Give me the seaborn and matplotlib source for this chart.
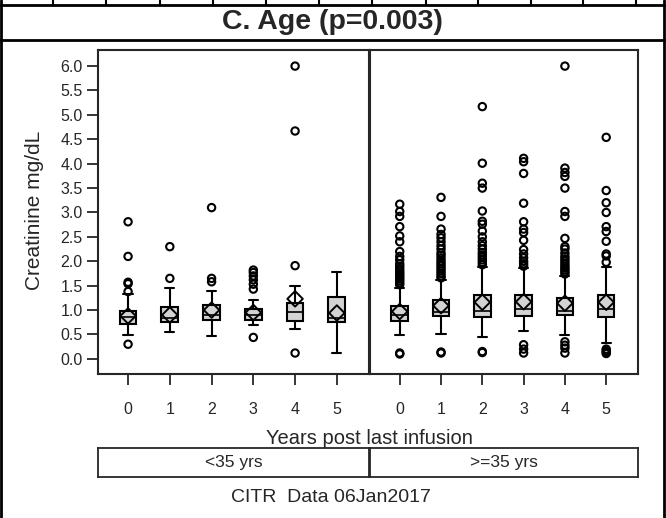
import numpy as np
import pandas as pd
import matplotlib
matplotlib.use("Agg")
import matplotlib.pyplot as plt
import seaborn as sns
from matplotlib.lines import Line2D

# --- Data ---
years = [0, 1, 2, 3, 4, 5]
age_groups = ["<35 yrs", ">=35 yrs"]

# <35 yrs
young_q1 = [0.71, 0.75, 0.80, 0.80, 0.77, 0.75]
young_median = [0.85, 0.83, 0.89, 0.89, 0.96, 0.83]
young_q3 = [0.98, 1.07, 1.11, 1.02, 1.14, 1.26]
young_whislo = [0.48, 0.56, 0.46, 0.70, 0.61, 0.12]
young_whishi = [1.33, 1.45, 1.39, 1.21, 1.50, 1.79]
young_mean = [0.88, 0.90, 1.00, 0.95, 1.23, 0.94]
young_outliers = [
    [0.30, 1.38, 1.54, 1.57, 2.10, 2.81],
    [1.65, 2.30],
    [1.58, 1.65, 3.10],
    [0.44, 1.43, 1.53, 1.62, 1.70, 1.77, 1.82],
    [0.12, 1.91, 4.67, 6.00],
    [],
]

# >=35 yrs
old_q1 = [0.78, 0.87, 0.85, 0.87, 0.89, 0.85]
old_median = [0.89, 0.97, 0.98, 1.02, 0.98, 1.02]
old_q3 = [1.09, 1.21, 1.30, 1.31, 1.24, 1.30]
old_whislo = [0.48, 0.51, 0.44, 0.58, 0.49, 0.32]
old_whishi = [1.45, 1.62, 1.89, 1.86, 1.70, 1.89]
old_mean = [0.97, 1.09, 1.16, 1.17, 1.14, 1.16]
old_outliers = [
    [0.10, 0.12, 1.52, 1.56, 1.60, 1.64, 1.68, 1.72, 1.76, 1.80, 1.85, 1.90,
     1.95, 2.03, 2.10, 2.20, 2.40, 2.52, 2.71, 2.92, 3.02, 3.17],
    [0.12, 0.14, 1.66, 1.70, 1.75, 1.80, 1.85, 1.90, 1.95, 2.00, 2.06, 2.12,
     2.17, 2.25, 2.32, 2.40, 2.48, 2.55, 2.66, 2.92, 3.31],
    [0.13, 0.15, 1.93, 1.98, 2.03, 2.08, 2.13, 2.18, 2.25, 2.32, 2.40, 2.50,
     2.62, 2.76, 2.82, 3.03, 3.50, 3.60, 4.01, 5.17],
    [0.12, 0.20, 0.29, 1.90, 1.95, 2.00, 2.07, 2.15, 2.24, 2.43, 2.59, 2.66,
     2.81, 3.19, 3.80, 4.04, 4.11],
    [0.12, 0.22, 0.28, 0.35, 1.74, 1.78, 1.82, 1.86, 1.90, 1.95, 2.00, 2.05,
     2.10, 2.17, 2.25, 2.30, 2.47, 2.92, 3.02, 3.50, 3.74, 3.82, 3.91, 6.00],
    [0.11, 0.14, 0.17, 0.20, 1.98, 2.11, 2.15, 2.41, 2.61, 2.71, 3.00, 3.20,
     3.45, 4.54],
]

summaries = {
    "<35 yrs": (young_q1, young_median, young_q3, young_whislo, young_whishi, young_mean, young_outliers),
    ">=35 yrs": (old_q1, old_median, old_q3, old_whislo, old_whishi, old_mean, old_outliers),
}

# long tables for seaborn
out_rows, mean_rows = [], []
for grp, (q1, med, q3, lo, hi, mn, outl) in summaries.items():
    for yr, m, pts in zip(years, mn, outl):
        mean_rows.append({"age": grp, "year": yr, "value": m})
        for v in pts:
            out_rows.append({"age": grp, "year": yr, "value": v})
df_out = pd.DataFrame(out_rows)
df_mean = pd.DataFrame(mean_rows)

# --- Styling ---
sns.set_style("ticks")
plt.rcParams["font.family"] = ["Liberation Sans", "DejaVu Sans"]
W, H = 666, 518


def px(x):
    return x / W


def py(y):
    return 1 - y / H


fig = plt.figure(figsize=(W / 100, H / 100), dpi=100)

panel_x = [(98, 369), (370, 638)]
top, bottom = 50, 374

axes = []
for (x0, x1), grp in zip(panel_x, age_groups):
    ax = fig.add_axes([px(x0), py(bottom), px(x1) - px(x0), py(top) - py(bottom)])
    q1, med, q3, lo, hi, mn, outl = summaries[grp]
    stats = [dict(q1=a, med=b, q3=c, whislo=d, whishi=e, fliers=[])
             for a, b, c, d, e in zip(q1, med, q3, lo, hi)]
    ax.bxp(stats, positions=years, widths=0.4, patch_artist=True, showfliers=False,
           capwidths=0.22,
           boxprops=dict(facecolor="#d3d3d3", edgecolor="black", linewidth=1.5),
           medianprops=dict(color="black", linewidth=1.2),
           whiskerprops=dict(color="black", linewidth=1.5),
           capprops=dict(color="black", linewidth=1.5))
    sns.scatterplot(data=df_out[df_out["age"] == grp], x="year", y="value", ax=ax,
                    marker="o", s=28, facecolors="none", edgecolor="black",
                    linewidth=1.5, zorder=4)
    sns.scatterplot(data=df_mean[df_mean["age"] == grp], x="year", y="value", ax=ax,
                    marker="D", s=62, facecolors="none", edgecolor="black",
                    linewidth=1.4, zorder=5)
    ax.set_xlim(-0.72, 5.77)
    ax.set_ylim(-0.31, 6.33)
    ax.set_xticks(years)
    ax.set_xticklabels([str(y) for y in years])
    ax.set_xlabel("")
    ax.set_ylabel("")
    for s in ax.spines.values():
        s.set_visible(True)
        s.set_linewidth(1.5)
    ax.tick_params(axis="x", direction="out", length=8, width=1.3, labelsize=11.5, pad=12)
    axes.append(ax)

axes[0].set_yticks(np.arange(0, 6.01, 0.5))
axes[0].set_yticklabels([f"{v:.1f}" for v in np.arange(0, 6.01, 0.5)])
axes[0].tick_params(axis="y", direction="out", length=8, width=1.3, labelsize=11.5, pad=3)
axes[1].set_yticks([])

# strip boxes under the panels
for (x0, x1), grp in zip(panel_x, age_groups):
    sax = fig.add_axes([px(x0), py(477), px(x1) - px(x0), py(448) - py(477)])
    sax.set_xticks([])
    sax.set_yticks([])
    for s in sax.spines.values():
        s.set_visible(True)
        s.set_linewidth(1.3)
    sax.text(0.5, 0.5, grp, ha="center", va="center", fontsize=12.5, transform=sax.transAxes)

# texts
fig.text(px(332), py(22), "C. Age (p=0.003)", ha="center", va="center",
         fontsize=20.5, fontweight="bold")
fig.text(px(35), py(210), "Creatinine mg/dL", ha="center", va="center",
         rotation=90, fontsize=15)
fig.text(px(369), py(438), "Years post last infusion", ha="center", va="center", fontsize=14.5)
fig.text(px(331), py(497), "CITR  Data 06Jan2017", ha="center", va="center", fontsize=14)

# outer frame and title box
frame = [((0, W), (5, 5)), ((0, W), (40, 40)), ((1, 1), (0, H)), ((663.5, 663.5), (0, H))]
for xs, ys in frame:
    fig.add_artist(Line2D([px(x) for x in xs], [py(y) for y in ys],
                          transform=fig.transFigure, color="black", linewidth=2))
for xt in [53, 106, 160, 213, 266, 319, 372, 426, 478, 531, 583, 636]:
    fig.add_artist(Line2D([px(xt), px(xt)], [py(0), py(5)],
                          transform=fig.transFigure, color="black", linewidth=1.5))

fig.savefig("out.png", dpi=100)
